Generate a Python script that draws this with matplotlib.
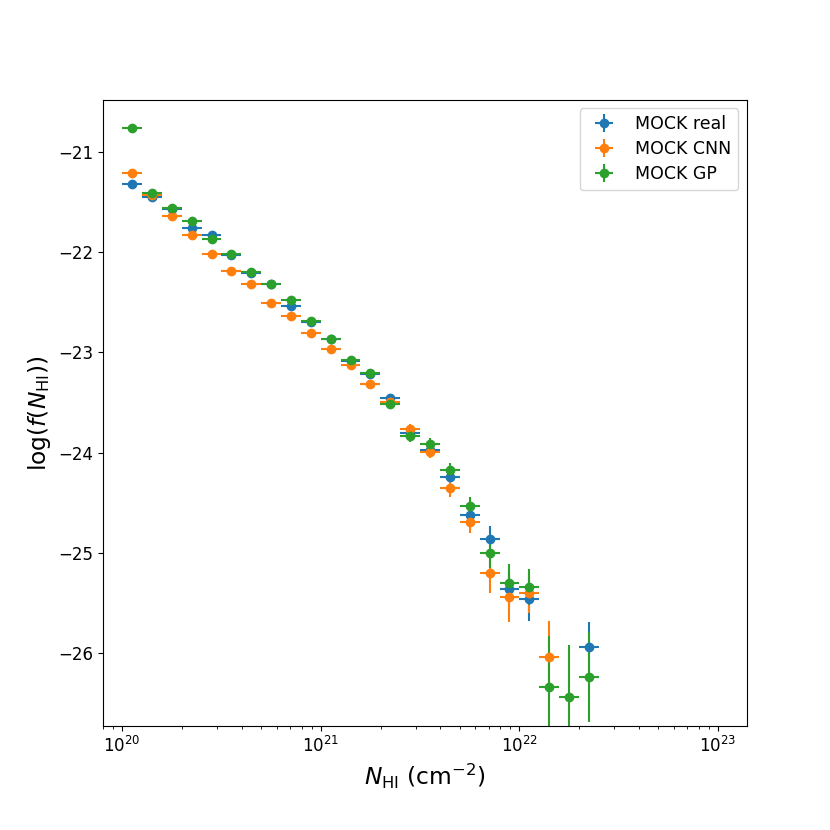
import numpy as np
import matplotlib
matplotlib.use("Agg")
import matplotlib.pyplot as plt

# bin edges in log10(N_HI)
bin_lo = np.round(np.arange(20.0, 22.35, 0.1), 2)  # 24 bins: 20.0 .. 22.3

real_vals = [-21.32, -21.45, -21.57, -21.76, -21.83, -22.03, -22.21, -22.32, -22.54, -22.70,
             -22.87, -23.09, -23.22, -23.46, -23.81, -23.97, -24.24, -24.62, -24.86, -25.36,
             -25.46, np.nan, np.nan, -25.94]
real_err = [0.01, 0.01, 0.01, 0.01, 0.02, 0.02, 0.02, 0.02, 0.02, 0.03,
            0.03, 0.03, 0.04, 0.04, 0.05, 0.05, 0.07, 0.09, 0.13, 0.18,
            0.22, 0.0, 0.0, 0.25]

cnn_vals = [-21.21, -21.43, -21.64, -21.83, -22.02, -22.19, -22.32, -22.51, -22.64, -22.81,
            -22.97, -23.13, -23.32, -23.50, -23.77, -23.99, -24.35, -24.69, -25.20, -25.44,
            -25.40, -26.04, np.nan, np.nan]
cnn_err = [0.01, 0.01, 0.01, 0.01, 0.02, 0.02, 0.02, 0.02, 0.02, 0.03,
           0.03, 0.03, 0.04, 0.04, 0.05, 0.06, 0.09, 0.11, 0.20, 0.25,
           0.20, 0.36, 0.0, 0.0]

gp_vals = [-20.76, -21.41, -21.56, -21.69, -21.87, -22.02, -22.20, -22.32, -22.48, -22.69,
           -22.87, -23.08, -23.21, -23.52, -23.84, -23.91, -24.17, -24.53, -25.00, -25.30,
           -25.34, -26.34, -26.44, -26.24]
gp_err = [0.01, 0.01, 0.01, 0.01, 0.02, 0.02, 0.02, 0.02, 0.02, 0.03,
          0.03, 0.03, 0.04, 0.04, 0.05, 0.05, 0.07, 0.09, 0.15, 0.19,
          0.18, 0.51, 0.52, 0.45]

series = [("MOCK real", real_vals, real_err),
          ("MOCK CNN", cnn_vals, cnn_err),
          ("MOCK GP", gp_vals, gp_err)]

lo = 10.0 ** bin_lo
hi = 10.0 ** (bin_lo + 0.1)
cen = 10.0 ** (bin_lo + 0.05)
xerr = np.vstack([cen - lo, hi - cen])

fig = plt.figure(figsize=(8.3, 8.3), dpi=100)
ax = fig.add_axes([0.124, 0.125, 0.776, 0.755])

for label, vals, err in series:
    ax.errorbar(cen, vals, xerr=xerr, yerr=err, fmt='o', ms=6, lw=1.5, label=label)

ax.set_xscale('log')
ax.set_xlim(8e19, 1.4e23)
ax.set_ylim(-26.73, -20.48)
ax.tick_params(labelsize=12)
ax.set_xlabel(r'$N_{\rm HI}$ (cm$^{-2}$)', fontsize=16.8)
ax.set_ylabel(r'log($f(N_{\rm HI})$)', fontsize=16.8)
ax.legend(fontsize=12.5, loc='upper right', labelspacing=0.4)

fig.savefig("out.png", dpi=100)
